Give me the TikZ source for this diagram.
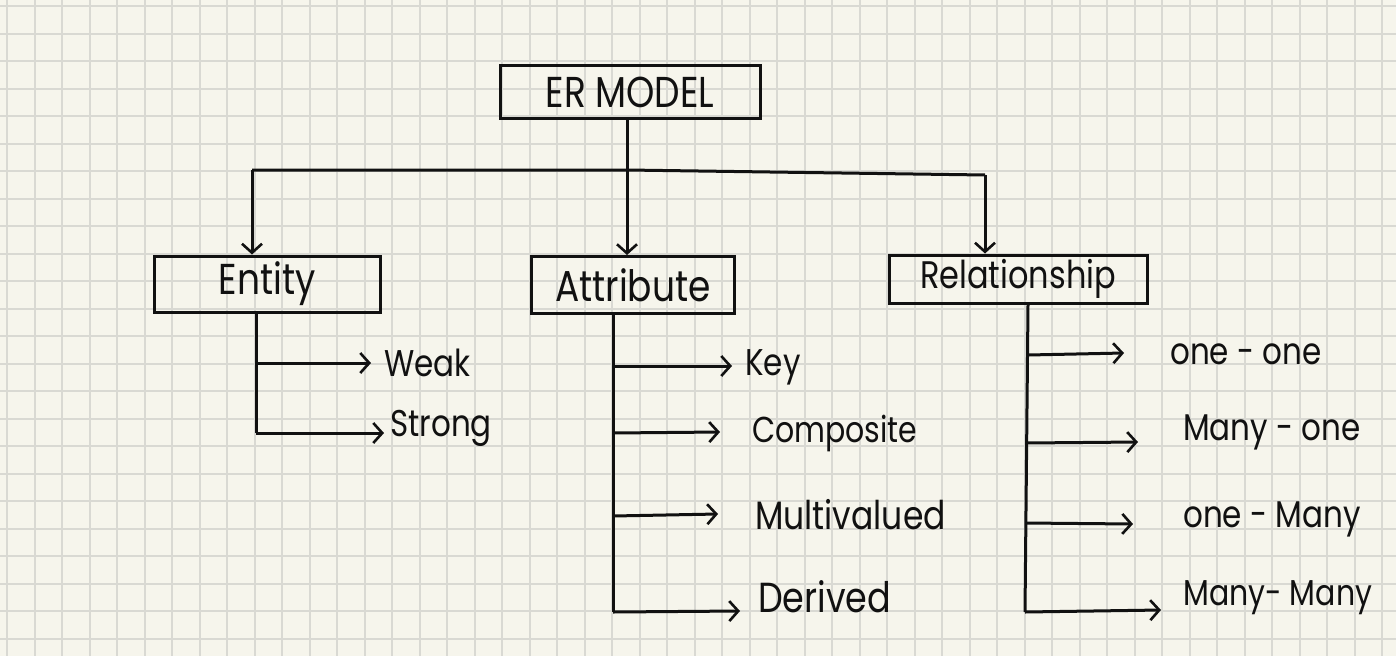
\documentclass[tikz,border=0pt]{standalone}
\usepackage{fontspec}
\usepackage{graphicx}
\setmainfont{Poppins}
\usetikzlibrary{arrows.meta}
\definecolor{paper}{HTML}{F6F5EC}
\definecolor{gridc}{HTML}{D9D9D3}
\definecolor{ink}{HTML}{111111}
\newcommand{\tallt}[1]{\scalebox{1}[1.2]{#1}}
\tikzset{
  box/.style={draw=ink, line width=3pt, inner sep=0pt, font=\fontsize{36}{40}\selectfont, text=ink},
  lbl/.style={anchor=west, inner sep=0pt, font=\fontsize{31}{36}\selectfont, text=ink},
  wire/.style={draw=ink, line width=3pt},
  arr/.style={wire, -{Straight Barb[length=9pt,width=20pt,line width=2.6pt]}},
}
\begin{document}
\begin{tikzpicture}[x=1pt,y=-1pt]
\fill[paper] (0,0) rectangle (1396,656);
\useasboundingbox (0,0) rectangle (1396,656);
\foreach \i in {0,...,50} {
  \draw[gridc, line width=2pt] ({7+27.5*\i},0) -- ({7+27.5*\i},656);
}
\foreach \j in {0,...,23} {
  \draw[gridc, line width=2pt] (0,{6+27.5*\j}) -- (1396,{6+27.5*\j});
}
% boxes
\node[box, minimum width=260pt, minimum height=53pt] (er) at (630,92) {\tallt{ER MODEL}};
\node[box, minimum width=226pt, minimum height=56pt] (ent) at (267,284) {\tallt{Entity}};
\node[box, minimum width=203pt, minimum height=57pt] (att) at (633,285) {\tallt{Attribute}};
\node[box, minimum width=258pt, minimum height=48pt, font=\fontsize{32}{36}\selectfont] (rel) at (1018,279) {\tallt{Relationship}};
% tree connectors
\coordinate (j) at (627,170);
\coordinate (jl) at (252,170);
\coordinate (jr) at (985,175);
\draw[wire] (er.south -| j) -- (j);
\draw[wire] (jl) -- (j) -- (jr);
\draw[arr] (jl) -- (ent.north -| jl);
\draw[arr] (j) -- (att.north -| j);
\draw[arr] (jr) -- (rel.north -| jr);
% labels
\node[lbl] (weak) at (384,363) {\tallt{Weak}};
\node[lbl] (strong) at (390,428) {\tallt{Strong}};
\node[lbl] (key) at (745,367) {\tallt{Key}};
\node[lbl, font=\fontsize{30}{32}\selectfont] (comp) at (752,433) {\tallt{Composite}};
\node[lbl, font=\fontsize{33}{36}\selectfont] (multi) at (755,515) {\tallt{Multivalued}};
\node[lbl, font=\fontsize{35}{38}\selectfont] (der) at (758,597) {\tallt{Derived}};
\node[lbl] (oo) at (1170,354) {\tallt{one - one}};
\node[lbl] (mo) at (1183,432) {\tallt{Many - one}};
\node[lbl] (om) at (1183,519) {\tallt{one - Many}};
\node[lbl, font=\fontsize{30}{34}\selectfont] (mm) at (1183,598) {\tallt{Many- Many}};
% entity branches
\coordinate (e1) at (256,363);
\coordinate (e2) at (256,433);
\coordinate (e1t) at (371,363);
\coordinate (e2t) at (384,433);
\draw[wire] (ent.south -| e1) -- (e2);
\draw[arr] (e1) -- (e1t);
\draw[arr] (e2) -- (e2t);
% attribute branches
\coordinate (a1) at (613,366);
\coordinate (a2) at (613,433);
\coordinate (a3) at (613,516);
\coordinate (a4) at (613,612);
\coordinate (a1t) at (732,366);
\coordinate (a2t) at (720,432);
\coordinate (a3t) at (718,514);
\coordinate (a4t) at (740,611);
\draw[wire] (att.south -| a1) -- (a4);
\draw[arr] (a1) -- (a1t);
\draw[arr] (a2) -- (a2t);
\draw[arr] (a3) -- (a3t);
\draw[arr] (a4) -- (a4t);
% relationship branches
\coordinate (r1) at (1028,355);
\coordinate (r2) at (1026,443);
\coordinate (r3) at (1025,523);
\coordinate (r4) at (1025,612);
\coordinate (r1t) at (1124,353);
\coordinate (r2t) at (1138,442);
\coordinate (r3t) at (1133,524);
\coordinate (r4t) at (1161,610);
\draw[wire] (rel.south -| r1) -- (r4);
\draw[arr] (r1) -- (r1t);
\draw[arr] (r2) -- (r2t);
\draw[arr] (r3) -- (r3t);
\draw[arr] (r4) -- (r4t);
\end{tikzpicture}
\end{document}
